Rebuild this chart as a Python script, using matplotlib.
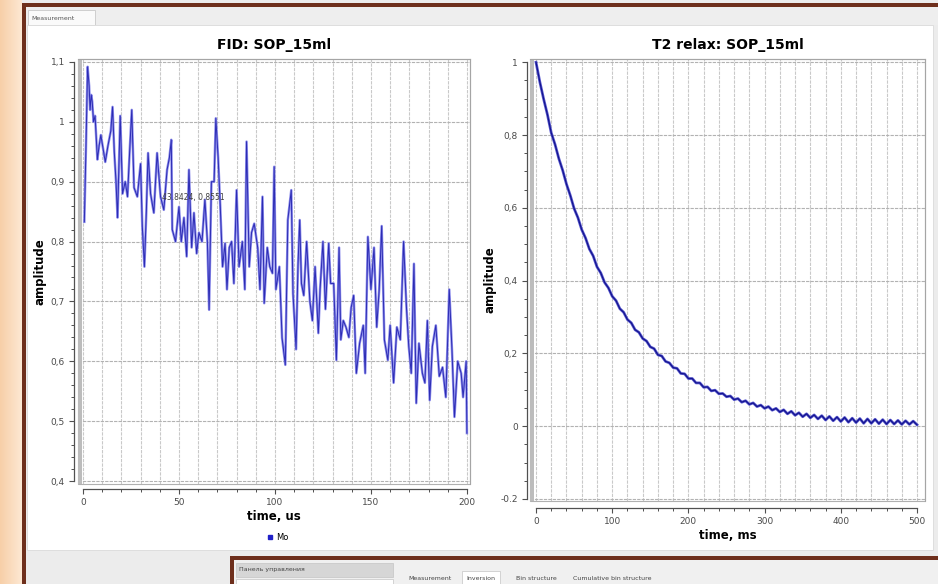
import numpy as np
import matplotlib
matplotlib.use("Agg")
import matplotlib.pyplot as plt
import matplotlib.ticker as ticker
from matplotlib.patches import Rectangle
from matplotlib.lines import Line2D
from matplotlib.colors import LinearSegmentedColormap

W, H = 938, 584

# FID signal, time in us, amplitude
fid_t = [
    0.7, 1.5, 2.4, 3.2, 3.7, 4.3, 4.8, 5.5, 6.3, 7.5, 8.4, 9.3, 10.5, 11.6,
    13.0, 14.5, 15.4, 16.3, 17.2, 18.0, 19.4, 20.6, 22.0, 23.2, 24.3, 25.4,
    26.6, 28.3, 30.0, 30.9, 32.0, 33.0, 33.9, 35.2, 36.9, 38.6, 40.4, 42.1,
    43.8, 45.0, 46.0, 46.5, 48.2, 50.0, 51.2, 52.6, 54.0, 55.2, 56.6, 57.8,
    59.2, 60.4, 62.0, 63.5, 64.8, 65.7, 66.9, 68.3, 69.2, 70.4, 71.5, 72.7,
    74.0, 75.0, 76.2, 77.4, 78.6, 80.0, 81.3, 83.0, 84.3, 85.2, 86.6, 87.8,
    89.2, 91.0, 92.2, 93.5, 94.4, 96.0, 97.3, 98.7, 99.6, 100.5, 102.3,
    103.7, 105.4, 106.7, 108.5, 109.4, 111.0, 112.0, 112.9, 113.8, 115.0,
    116.5, 118.2, 119.5, 120.9, 122.6, 123.5, 125.0, 126.3, 128.0, 129.0,
    130.6, 132.0, 133.4, 134.3, 135.6, 137.0, 138.5, 139.7, 141.0, 142.4,
    144.1, 146.0, 147.0, 148.4, 150.0, 151.6, 153.0, 154.3, 155.6, 157.0,
    158.8, 160.0, 161.8, 163.5, 165.3, 167.0, 168.5, 169.7, 171.0, 172.4,
    173.6, 175.0, 176.8, 178.1, 179.4, 180.6, 182.0, 183.8, 185.6, 187.3,
    189.0, 190.8, 192.2, 193.5, 195.2, 197.0, 198.0, 199.6, 200.0,
]
fid_amp = [
    0.833, 0.95, 1.092, 1.06, 1.02, 1.045, 1.034, 1.00, 1.01, 0.937, 0.96,
    0.978, 0.955, 0.933, 0.96, 0.985, 1.025, 0.95, 0.90, 0.84, 1.01, 0.88,
    0.90, 0.875, 0.95, 1.02, 0.89, 0.875, 0.93, 0.825, 0.758, 0.85, 0.948,
    0.88, 0.848, 0.948, 0.875, 0.853, 0.92, 0.94, 0.97, 0.82, 0.80, 0.858,
    0.80, 0.84, 0.775, 0.92, 0.79, 0.848, 0.78, 0.815, 0.80, 0.87, 0.80,
    0.686, 0.90, 0.90, 1.006, 0.94, 0.86, 0.758, 0.797, 0.72, 0.79, 0.80,
    0.73, 0.886, 0.758, 0.80, 0.72, 0.967, 0.758, 0.815, 0.83, 0.79, 0.72,
    0.875, 0.697, 0.79, 0.758, 0.747, 0.925, 0.72, 0.758, 0.639, 0.594,
    0.836, 0.886, 0.713, 0.62, 0.76, 0.836, 0.73, 0.71, 0.80, 0.70, 0.668,
    0.758, 0.647, 0.72, 0.80, 0.687, 0.797, 0.73, 0.73, 0.602, 0.79, 0.636,
    0.668, 0.657, 0.64, 0.69, 0.71, 0.58, 0.63, 0.66, 0.58, 0.808, 0.72,
    0.79, 0.657, 0.72, 0.826, 0.636, 0.602, 0.66, 0.564, 0.657, 0.636, 0.80,
    0.69, 0.625, 0.58, 0.763, 0.53, 0.63, 0.58, 0.564, 0.668, 0.535, 0.625,
    0.66, 0.575, 0.59, 0.54, 0.72, 0.62, 0.507, 0.60, 0.58, 0.54, 0.60, 0.48,
]
fid_cursor = "43.8424, 0.8551"

# T2 relaxation, time in ms
t2_t = list(range(0, 501, 5))
t2_amp = [
    1.000, 0.946, 0.899, 0.856, 0.806, 0.774, 0.735, 0.703, 0.665, 0.634,
    0.598, 0.573, 0.540, 0.517, 0.487, 0.468, 0.438, 0.421, 0.395, 0.380,
    0.357, 0.345, 0.323, 0.313, 0.293, 0.284, 0.265, 0.258, 0.241, 0.234,
    0.218, 0.213, 0.196, 0.193, 0.178, 0.174, 0.161, 0.159, 0.145, 0.144,
    0.131, 0.131, 0.119, 0.119, 0.107, 0.108, 0.097, 0.099, 0.089, 0.090,
    0.081, 0.083, 0.073, 0.076, 0.066, 0.070, 0.060, 0.064, 0.054, 0.058,
    0.049, 0.054, 0.044, 0.049, 0.039, 0.045, 0.034, 0.041, 0.030, 0.037,
    0.026, 0.034, 0.023, 0.031, 0.020, 0.029, 0.017, 0.027, 0.015, 0.025,
    0.013, 0.024, 0.011, 0.022, 0.010, 0.021, 0.008, 0.020, 0.008, 0.019,
    0.007, 0.018, 0.006, 0.017, 0.006, 0.016, 0.005, 0.015, 0.005, 0.014,
    0.004,
]

fid_xticks = [0, 50, 100, 150, 200]
fid_yticks = [0.4, 0.5, 0.6, 0.7, 0.8, 0.9, 1.0, 1.1]
fid_ylabels = ["0,4", "0,5", "0,6", "0,7", "0,8", "0,9", "1", "1,1"]
t2_xticks = [0, 100, 200, 300, 400, 500]
t2_yticks = [-0.2, 0.0, 0.2, 0.4, 0.6, 0.8, 1.0]
t2_ylabels = ["-0.2", "0", "0,2", "0,4", "0,6", "0,8", "1"]

bottom_tabs = ["Measurement", "Inversion", "Bin structure", "Cumulative bin structure"]

BROWN = "#6e2f1c"


def box(l, t, r, b):
    return [l / W, 1 - b / H, (r - l) / W, (b - t) / H]


def rect(ax, l, t, r, b, **kw):
    ax.add_patch(Rectangle((l, t), r - l, b - t, **kw))


def setup_axes(ax, px_w, xlim, ylim, xticks, yticks, ylabels, xminor, yminor,
               left_out, bottom_out):
    ax.set_xlim(*xlim)
    ax.set_ylim(*ylim)
    ax.set_xticks(xticks, labels=[str(x) for x in xticks])
    ax.set_yticks(yticks, labels=ylabels)
    ax.xaxis.set_minor_locator(ticker.MultipleLocator(xminor))
    ax.yaxis.set_minor_locator(ticker.MultipleLocator(yminor))
    for s in ("top", "right"):
        ax.spines[s].set_color("#a5a5a5")
        ax.spines[s].set_linewidth(0.8)
    ax.spines["left"].set_position(("outward", left_out * 0.72))
    ax.spines["left"].set_bounds(yticks[0], yticks[-1])
    ax.spines["bottom"].set_position(("outward", bottom_out * 0.72))
    ax.spines["bottom"].set_bounds(xticks[0], xticks[-1])
    for s in ("left", "bottom"):
        ax.spines[s].set_color("#505050")
        ax.spines[s].set_linewidth(0.9)
    ax.tick_params(which="major", direction="out", length=3.6, width=0.8,
                   color="#505050", labelsize=6.5, labelcolor="#4a4a4a", pad=3)
    ax.tick_params(which="minor", direction="out", length=2, width=0.7,
                   color="#505050")
    ax.grid(which="both", axis="x", color="#c9c9c9", lw=0.8, ls=(0, (3, 1)))
    ax.grid(which="major", axis="y", color="#b2b2b2", lw=0.8, ls=(0, (3, 1)))
    ax.set_axisbelow(True)
    # canvas frame with the grey bar on its left edge
    ax.add_patch(Rectangle((0, 0), 1, 1, transform=ax.transAxes, fill=False,
                           edgecolor="#b0b0b0", lw=0.8, clip_on=False))
    ax.add_patch(Rectangle((0, 0), 4 / px_w, 1, transform=ax.transAxes,
                           facecolor="#bcbcbc", edgecolor="none", clip_on=False))


plt.rcParams["font.family"] = ["DejaVu Sans"]
fig = plt.figure(figsize=(W / 100, H / 100), dpi=100)

# window around the plots
bg = fig.add_axes([0, 0, 1, 1], zorder=-1)
peach = LinearSegmentedColormap.from_list("peach", ["#f7cfa8", "#fde8d3"])
bg.imshow(np.linspace(0, 1, 32)[None, :], extent=(0, 22, H, 0), cmap=peach,
          aspect="auto")
bg.set_xlim(0, W)
bg.set_ylim(H, 0)
bg.axis("off")
rect(bg, 22, 0, W, H, facecolor="#ececec", edgecolor="none")
rect(bg, 22, 3, W, 7, facecolor=BROWN, edgecolor="none")
rect(bg, 22, 3, 26, H, facecolor=BROWN, edgecolor="none")
rect(bg, 26, 7, W, 25, facecolor="#eeeeee", edgecolor="none")
rect(bg, 28, 10, 95, 25, facecolor="#fafafa", edgecolor="#c8c8c8", lw=0.6)
bg.text(31, 18, "Measurement", fontsize=4.5, color="#555555", va="center")
rect(bg, 27, 25, 933, 550, facecolor="white", edgecolor="#dadada", lw=0.6)

# lower control panel
rect(bg, 230, 556, W, H, facecolor="#f0f0f0", edgecolor="none")
rect(bg, 230, 556, W, 560, facecolor=BROWN, edgecolor="none")
rect(bg, 230, 556, 234, H, facecolor=BROWN, edgecolor="none")
rect(bg, 236, 563, 393, 577, facecolor="#d6d6d6", edgecolor="#c4c4c4", lw=0.5)
bg.text(239, 570, "Панель управления", fontsize=4.5, color="#444444", va="center")
rect(bg, 236, 579, 393, H + 2, facecolor="white", edgecolor="#c4c4c4", lw=0.5)
tab_x = [430, 481, 536, 612]
rect(bg, 462, 571, 500, H + 2, facecolor="white", edgecolor="#c4c4c4", lw=0.5)
for name, x in zip(bottom_tabs, tab_x):
    bg.text(x, 578, name, fontsize=4.5, color="#444444", ha="center", va="center")

# FID plot
ax1 = fig.add_axes(box(78, 59, 470, 484))
ax1.plot(fid_t, fid_amp, color="#8e8eec", lw=1.8, zorder=3)
ax1.plot(fid_t, fid_amp, color="#2c2cb4", lw=0.7, zorder=4)
setup_axes(ax1, 392, (-2.6, 201.6), (0.395, 1.105), fid_xticks, fid_yticks,
           fid_ylabels, 10, 0.02, 4, 5)
ax1.text(41.3, 0.874, fid_cursor, fontsize=5.5, color="#404040", va="center",
         zorder=5)
ax1.set_title("FID: SOP_15ml", fontsize=10, fontweight="bold", pad=7)
ax1.set_xlabel("time, us", fontsize=8.5, fontweight="bold", labelpad=2)
ax1.set_ylabel("amplitude", fontsize=8.5, fontweight="bold", labelpad=3)
ax1.legend(handles=[Line2D([], [], marker="s", ls="", color="#2020c8", ms=3.5)],
           labels=["Mo"], loc="center", bbox_to_anchor=(277 / W, 1 - 537 / H),
           bbox_transform=fig.transFigure, frameon=False, fontsize=6,
           handletextpad=0.2, handlelength=1)

# T2 relaxation plot
ax2 = fig.add_axes(box(530, 59, 925, 501))
ax2.plot(t2_t, t2_amp, color="#5a5ad0", lw=2.0, zorder=3)
ax2.plot(t2_t, t2_amp, color="#14148f", lw=0.9, zorder=4)
setup_axes(ax2, 395, (-7.9, 510.5), (-0.2055, 1.009), t2_xticks, t2_yticks,
           t2_ylabels, 20, 0.05, 3, 7)
ax2.set_title("T2 relax: SOP_15ml", fontsize=10, fontweight="bold", pad=7)
ax2.set_xlabel("time, ms", fontsize=8.5, fontweight="bold", labelpad=2)
ax2.set_ylabel("amplitude", fontsize=8.5, fontweight="bold", labelpad=3)

fig.savefig("out.png", dpi=100)
